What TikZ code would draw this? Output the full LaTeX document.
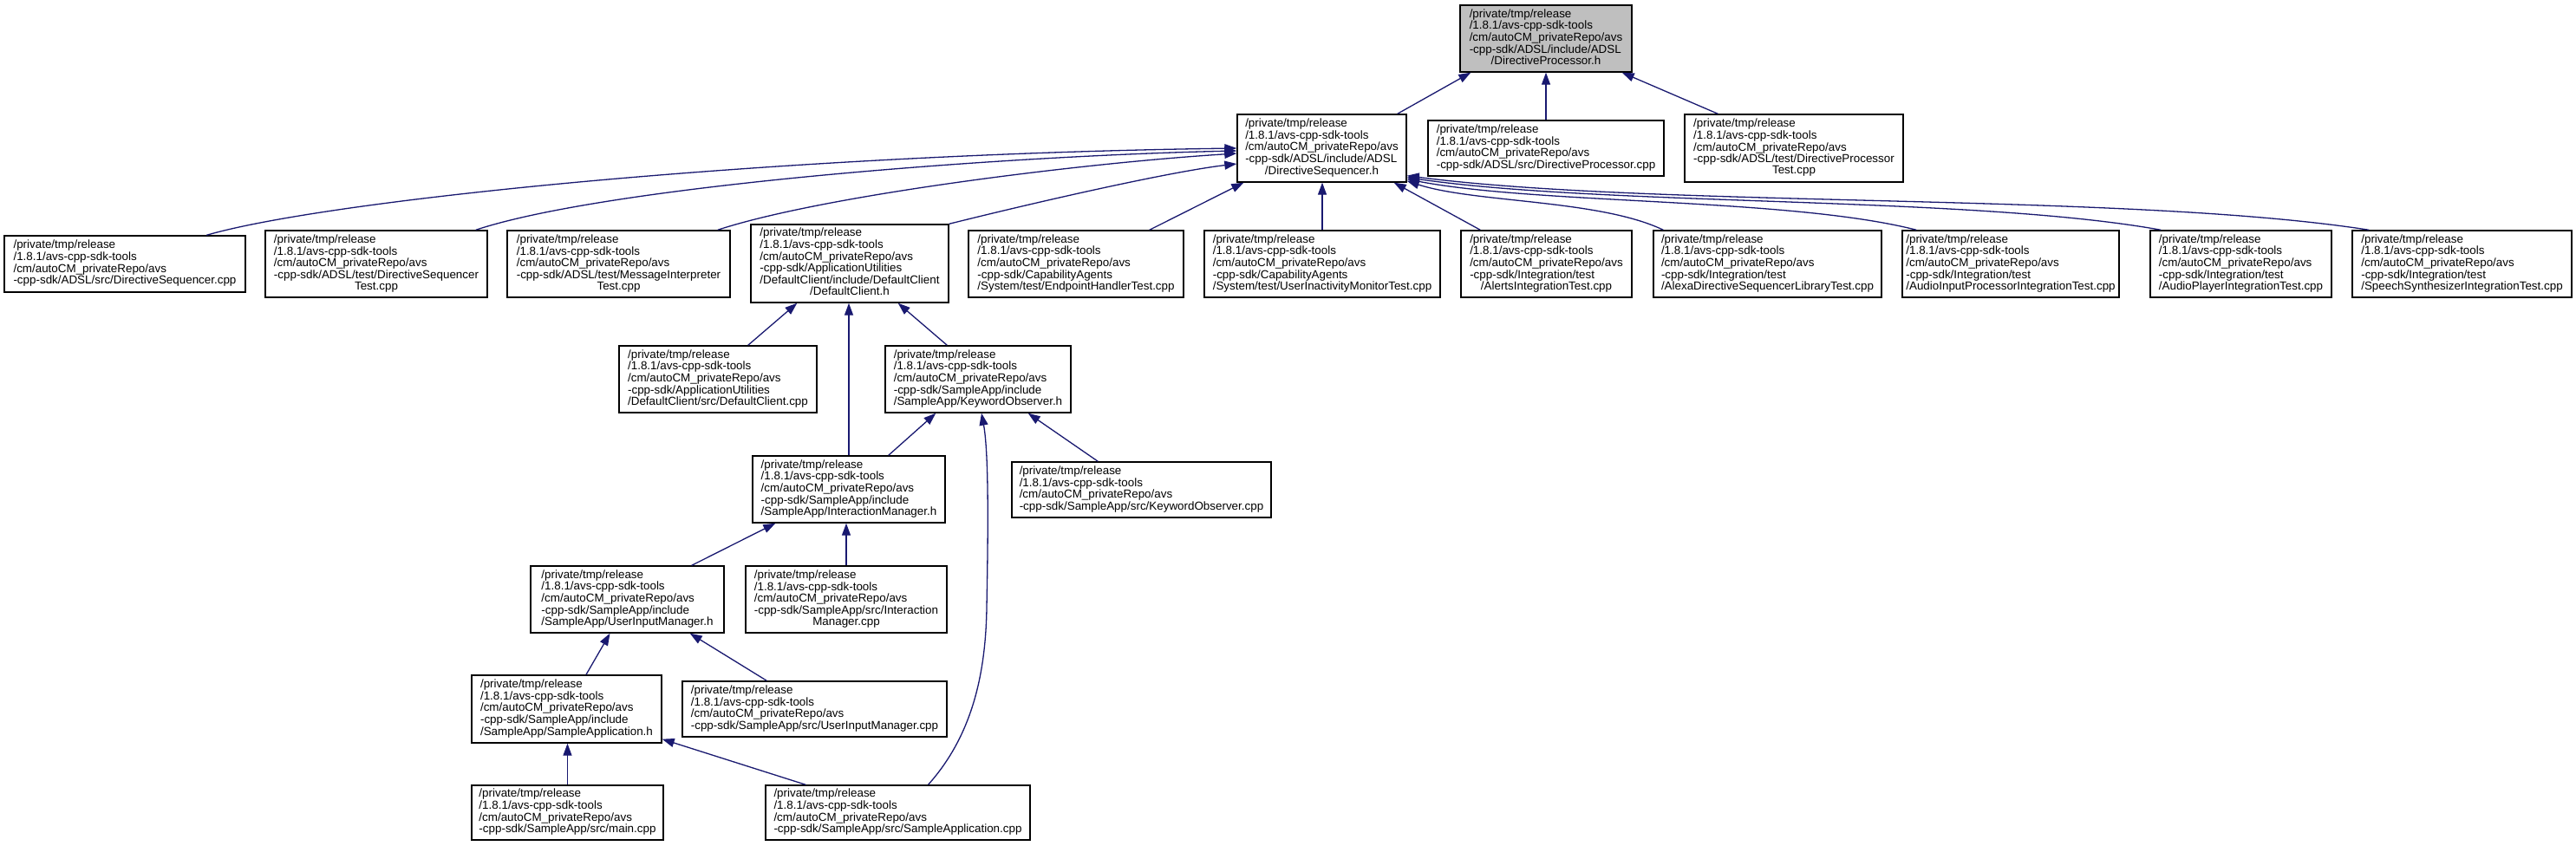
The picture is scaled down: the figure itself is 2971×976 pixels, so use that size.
\documentclass[tikz,border=0pt]{standalone}
\usepackage{fontspec}
\setmainfont{Liberation Sans}
\usetikzlibrary{arrows.meta}
\definecolor{edgeblue}{RGB}{25,25,112}
\definecolor{rootgray}{RGB}{191,191,191}
\newcommand{\pfx}{/private/tmp/release\\/1.8.1/avs-cpp-sdk-tools\\/cm/autoCM\_privateRepo/avs}
\newcommand{\fileL}[1]{\begin{tabular}{@{}l@{}}\pfx\\#1\end{tabular}}
\newcommand{\fileC}[2]{\begin{tabular}{@{}l@{}}\pfx\\#1\\\multicolumn{1}{@{}c@{}}{#2}\end{tabular}}
\begin{document}
\begin{tikzpicture}[x=1pt,y=-1pt,
  filebox/.style={draw=black, line width=1.4pt, fill=white, inner sep=0pt,
    font=\fontsize{13.4}{13}\selectfont},
  edge/.style={draw=edgeblue, line width=1.3pt, -{Triangle[length=14pt,width=10pt]}}]
\useasboundingbox (0,0) rectangle (2971,976);
\fill[white] (0,0) rectangle (2971,976);
% level 0
\node[filebox, fill=rootgray, minimum width=198pt, minimum height=77pt] (root) at (1783,44.5) {\fileC{-cpp-sdk/ADSL/include/ADSL}{/DirectiveProcessor.h}};
% level 1
\node[filebox, minimum width=195pt, minimum height=78pt] (dsh) at (1524.5,171) {\fileC{-cpp-sdk/ADSL/include/ADSL}{/DirectiveSequencer.h}};
\node[filebox, minimum width=272pt, minimum height=64pt] (dpc) at (1783,171) {\fileL{-cpp-sdk/ADSL/src/DirectiveProcessor.cpp}};
\node[filebox, minimum width=252pt, minimum height=78pt] (dpt) at (2069,171) {\fileC{-cpp-sdk/ADSL/test/DirectiveProcessor}{Test.cpp}};
% level 2
\node[filebox, minimum width=278pt, minimum height=65pt] (dsc) at (144,304.5) {\fileL{-cpp-sdk/ADSL/src/DirectiveSequencer.cpp}};
\node[filebox, minimum width=256pt, minimum height=77pt] (dst) at (434,304.5) {\fileC{-cpp-sdk/ADSL/test/DirectiveSequencer}{Test.cpp}};
\node[filebox, minimum width=257pt, minimum height=77pt] (mit) at (713.5,304.5) {\fileC{-cpp-sdk/ADSL/test/MessageInterpreter}{Test.cpp}};
\node[filebox, minimum width=228pt, minimum height=90pt] (dch) at (980,304) {\fileC{-cpp-sdk/ApplicationUtilities\\/DefaultClient/include/DefaultClient}{/DefaultClient.h}};
\node[filebox, minimum width=248pt, minimum height=77pt] (eht) at (1241,304.5) {\fileL{-cpp-sdk/CapabilityAgents\\/System/test/EndpointHandlerTest.cpp}};
\node[filebox, minimum width=272pt, minimum height=77pt] (uimt) at (1525,304.5) {\fileL{-cpp-sdk/CapabilityAgents\\/System/test/UserInactivityMonitorTest.cpp}};
\node[filebox, minimum width=197pt, minimum height=77pt] (alt) at (1783.5,304.5) {\fileC{-cpp-sdk/Integration/test}{/AlertsIntegrationTest.cpp}};
\node[filebox, minimum width=263pt, minimum height=77pt] (adsl) at (2038.5,304.5) {\fileL{-cpp-sdk/Integration/test\\/AlexaDirectiveSequencerLibraryTest.cpp}};
\node[filebox, minimum width=250pt, minimum height=77pt] (aip) at (2319,304.5) {\fileL{-cpp-sdk/Integration/test\\/AudioInputProcessorIntegrationTest.cpp}};
\node[filebox, minimum width=209pt, minimum height=77pt] (ap) at (2584.5,304.5) {\fileL{-cpp-sdk/Integration/test\\/AudioPlayerIntegrationTest.cpp}};
\node[filebox, minimum width=253pt, minimum height=77pt] (ss) at (2839.5,304.5) {\fileL{-cpp-sdk/Integration/test\\/SpeechSynthesizerIntegrationTest.cpp}};
% level 3
\node[filebox, minimum width=228pt, minimum height=77pt] (dcc) at (828,437.5) {\fileL{-cpp-sdk/ApplicationUtilities\\/DefaultClient/src/DefaultClient.cpp}};
\node[filebox, minimum width=214pt, minimum height=77pt] (koh) at (1128,437.5) {\fileL{-cpp-sdk/SampleApp/include\\/SampleApp/KeywordObserver.h}};
% level 4
\node[filebox, minimum width=222pt, minimum height=77pt] (imh) at (979,564.5) {\fileL{-cpp-sdk/SampleApp/include\\/SampleApp/InteractionManager.h}};
\node[filebox, minimum width=299pt, minimum height=64pt] (koc) at (1316.5,565) {\fileL{-cpp-sdk/SampleApp/src/KeywordObserver.cpp}};
% level 5
\node[filebox, minimum width=223pt, minimum height=77pt] (uimh) at (723.5,691.5) {\fileL{-cpp-sdk/SampleApp/include\\/SampleApp/UserInputManager.h}};
\node[filebox, minimum width=232pt, minimum height=77pt] (imc) at (976,691.5) {\fileC{-cpp-sdk/SampleApp/src/Interaction}{Manager.cpp}};
% level 6
\node[filebox, minimum width=219pt, minimum height=78pt] (sah) at (653.5,818) {\fileL{-cpp-sdk/SampleApp/include\\/SampleApp/SampleApplication.h}};
\node[filebox, minimum width=305pt, minimum height=64pt] (uimc) at (939.5,818) {\fileL{-cpp-sdk/SampleApp/src/UserInputManager.cpp}};
% level 7
\node[filebox, minimum width=221pt, minimum height=63pt] (main) at (654.5,937.5) {\fileL{-cpp-sdk/SampleApp/src/main.cpp}};
\node[filebox, minimum width=305pt, minimum height=63pt] (sac) at (1035.5,937.5) {\fileL{-cpp-sdk/SampleApp/src/SampleApplication.cpp}};
% edges to root
\draw[edge] ([xshift=-11pt]dsh.north east) -- ([xshift=13pt]root.south west);
\draw[edge] (dpc.north) -- (root.south);
\draw[edge] ([xshift=39pt]dpt.north west) -- ([xshift=-12pt]root.south east);
% edges to DirectiveSequencer.h
\draw[edge] ([xshift=234pt]dsc.north west) .. controls (380,230) and (900,178) .. (dsh.west);
\draw[edge] ([xshift=-14pt]dst.north east) .. controls (700,215) and (1150,180) .. ([yshift=-3pt]dsh.west);
\draw[edge] ([xshift=-15pt]mit.north east) .. controls (950,225) and (1250,188) .. ([yshift=-6pt]dsh.west);
\draw[edge] (dch.north east) .. controls (1200,232) and (1350,198) .. ([yshift=-18pt]dsh.west);
\draw[edge] ([xshift=-40pt]eht.north east) -- ([xshift=8pt]dsh.south west);
\draw[edge] (uimt.north) -- (uimt.north |- dsh.south);
\draw[edge] ([xshift=23pt]alt.north west) -- ([xshift=-15pt]dsh.south east);
\draw[edge] ([xshift=12pt]adsl.north west) .. controls (1845,230) and (1700,234) .. ([yshift=2pt]dsh.south east);
\draw[edge] ([xshift=17pt]aip.north west) .. controls (2064,228) and (1775,236) .. ([yshift=4pt]dsh.south east);
\draw[edge] ([xshift=13pt]ap.north west) .. controls (2275,226) and (1850,238) .. ([yshift=6pt]dsh.south east);
\draw[edge] ([xshift=20pt]ss.north west) .. controls (2455,222) and (1910,240) .. ([yshift=8pt]dsh.south east);
% edges to DefaultClient.h
\draw[edge] ([xshift=-80pt]dcc.north east) -- ([xshift=54pt]dch.south west);
\draw[edge] (imh.north) -- (imh.north |- dch.south);
\draw[edge] ([xshift=72pt]koh.north west) -- ([xshift=-59pt]dch.south east);
% edges to KeywordObserver.h
\draw[edge] ([xshift=-66pt]imh.north east) -- ([xshift=59pt]koh.south west);
\draw[edge] ([xshift=35pt]sac.north) .. controls (1120,850) and (1137,780) .. (1138,700) .. controls (1140,600) and (1140,520) .. ([xshift=4pt]koh.south);
\draw[edge] ([xshift=100pt]koc.north west) -- ([xshift=-50pt]koh.south east);
% edges to InteractionManager.h
\draw[edge] ([xshift=-38pt]uimh.north east) -- ([xshift=27pt]imh.south west);
\draw[edge] (imc.north) -- (imc.north |- imh.south);
% edges to UserInputManager.h
\draw[edge] ([xshift=22.5pt]sah.north) -- ([xshift=-20pt]uimh.south);
\draw[edge] ([xshift=98pt]uimc.north west) -- ([xshift=-40pt]uimh.south east);
% edges to SampleApplication.h
\draw[edge] (main.north) -- (main.north |- sah.south);
\draw[edge] ([xshift=47pt]sac.north west) -- ([yshift=5pt]sah.south east);
\end{tikzpicture}
\end{document}
